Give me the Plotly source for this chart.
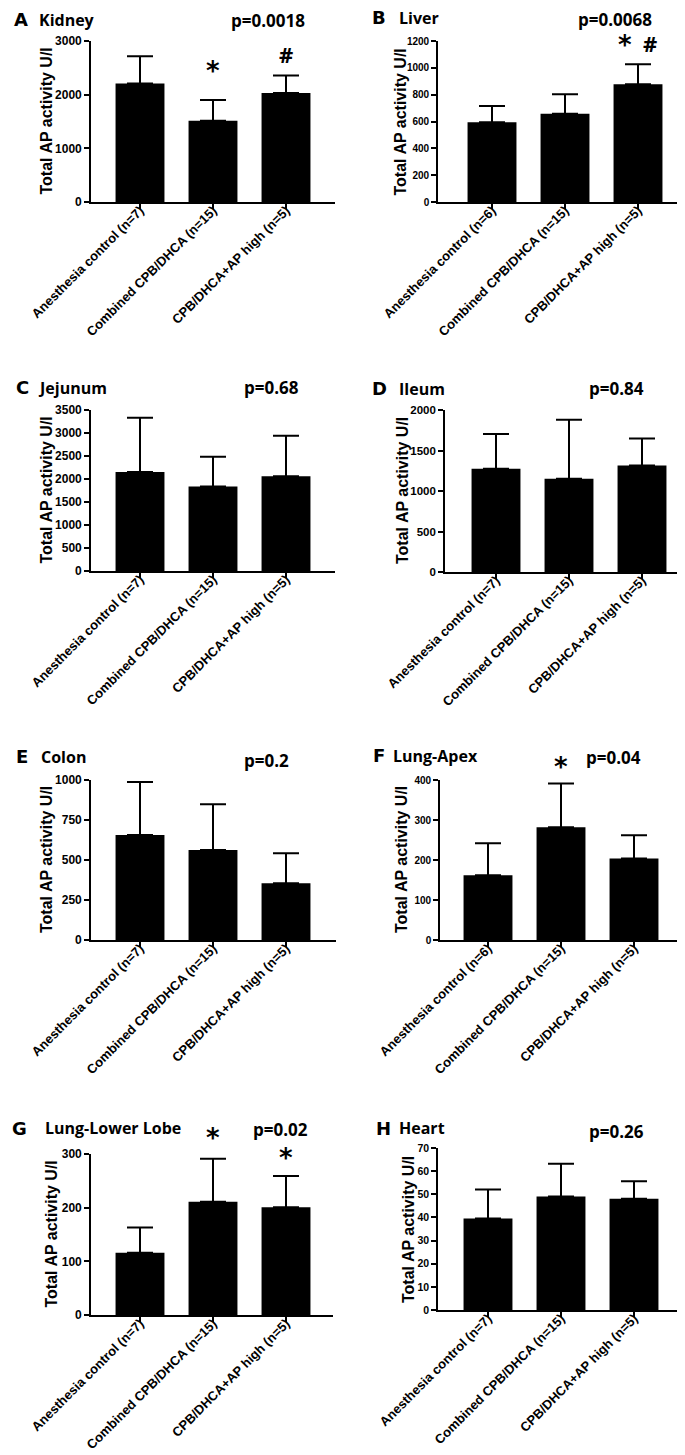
import plotly.graph_objects as go

# ---------------- data ----------------
groups_n7 = ["Anesthesia control (n=7)", "Combined CPB/DHCA (n=15)", "CPB/DHCA+AP high (n=5)"]
groups_n6 = ["Anesthesia control (n=6)", "Combined CPB/DHCA (n=15)", "CPB/DHCA+AP high (n=5)"]

panel_letters = ["A", "B", "C", "D", "E", "F", "G", "H"]
panel_names = ["Kidney", "Liver", "Jejunum", "Ileum", "Colon", "Lung-Apex", "Lung-Lower Lobe", "Heart"]
p_values = ["p=0.0018", "p=0.0068", "p=0.68", "p=0.84", "p=0.2", "p=0.04", "p=0.02", "p=0.26"]

kidney_mean = [2210, 1515, 2030]
kidney_upper = [2715, 1900, 2355]
liver_mean = [595, 658, 878]
liver_upper = [715, 803, 1027]
jejunum_mean = [2150, 1835, 2060]
jejunum_upper = [3330, 2485, 2940]
ileum_mean = [1275, 1152, 1315]
ileum_upper = [1705, 1880, 1648]
colon_mean = [656, 563, 355]
colon_upper = [988, 849, 542]
apex_mean = [162, 282, 204]
apex_upper = [242, 391, 262]
lower_mean = [116, 211, 201]
lower_upper = [163, 291, 259]
heart_mean = [39.5, 49.0, 48.1]
heart_upper = [52.1, 63.2, 55.6]

y_max = [3000, 1200, 3500, 2000, 1000, 400, 300, 70]
y_dtick = [1000, 200, 500, 500, 250, 100, 100, 10]

# significance marks: (panel index, group index, symbol)
marks = [(0, 1, "*"), (0, 2, "#"), (1, 2, "*"), (1, 2, "#"), (5, 1, "*"), (6, 1, "*"), (6, 2, "*")]

means = [kidney_mean, liver_mean, jejunum_mean, ileum_mean, colon_mean, apex_mean, lower_mean, heart_mean]
uppers = [kidney_upper, liver_upper, jejunum_upper, ileum_upper, colon_upper, apex_upper, lower_upper, heart_upper]
cats = [groups_n7, groups_n6, groups_n7, groups_n7, groups_n7, groups_n6, groups_n7, groups_n7]

# ---------------- layout geometry (pixels) ----------------
W, H = 685, 1455
# left, right, top, bottom, first tick center
geom = [
    (83, 327, 33, 194, 132),
    (430, 678, 33, 194, 484),
    (83, 327, 402, 563, 132),
    (437, 683, 402, 564, 488),
    (83, 328, 772, 932, 132),
    (432, 673, 772, 932, 480),
    (83, 325, 1146, 1307, 132),
    (430, 674, 1140, 1302, 480),
]
SP = 73.0
# title positions: letter x, name x, title y, p center x, p y
title_pos = [
    (4, 29, 12, 260, 13),
    (362, 389, 10, 607, 12),
    (6, 28, 380, 263, 380),
    (362, 389, 381, 608, 381),
    (6, 31, 749, 258, 752),
    (363, 383, 748, 605, 750),
    (2, 35, 1120, 272, 1121),
    (366, 389, 1120, 608, 1123),
]
ytitle_x = [38, 392, 38, 395, 38, 393, 43, 400]
ytick_size = [12, 10, 12, 11.5, 12, 10, 12, 10.5]
# per-mark pixel offsets (xshift, yshift)
mark_off = [(0, 13), (0, 6), (-13, 3), (12, 5), (0, 1), (0, 5), (0, 2)]

SANS = "Liberation Sans"

fig = go.Figure()
annotations = []
layout = {}

def px_x(x):
    return x / W

def px_y(y):
    return 1 - y / H

def b(t):
    return "<b>" + t + "</b>"

for i in range(8):
    left, right, top, bottom, c1 = geom[i]
    xa = "x" if i == 0 else f"x{i+1}"
    ya = "y" if i == 0 else f"y{i+1}"
    xkey = "xaxis" if i == 0 else f"xaxis{i+1}"
    ykey = "yaxis" if i == 0 else f"yaxis{i+1}"
    r0 = -(c1 - left) / SP
    r1 = 2 + (right - (c1 + 2 * SP)) / SP
    m = means[i]
    u = uppers[i]
    fig.add_trace(go.Bar(
        x=cats[i], y=m, xaxis=xa, yaxis=ya,
        marker=dict(color="black", line=dict(width=0)),
        width=0.67,
        error_y=dict(type="data", symmetric=False,
                     array=[u[k] - m[k] for k in range(3)],
                     arrayminus=[0, 0, 0],
                     color="black", thickness=2, width=13),
        showlegend=False, hoverinfo="skip",
    ))
    yt = list(range(0, y_max[i] + 1, y_dtick[i]))
    layout[xkey] = dict(
        domain=[px_x(left), px_x(right)], anchor=ya,
        type="category", range=[r0, r1],
        tickmode="array", tickvals=cats[i], ticktext=[b(c) for c in cats[i]],
        showline=True, linecolor="black", linewidth=1.6,
        ticks="outside", ticklen=5, tickwidth=1.6, tickcolor="black",
        tickangle=-45, tickfont=dict(family=SANS, size=13, color="black"),
        ticklabelstandoff=-11,
        showgrid=False, zeroline=False,
        automargin=False, fixedrange=True,
    )
    layout[ykey] = dict(
        domain=[px_y(bottom), px_y(top)], anchor=xa,
        range=[0, y_max[i]],
        tickmode="array", tickvals=yt, ticktext=[b(str(v)) for v in yt],
        showline=True, linecolor="black", linewidth=1.6,
        ticks="outside", ticklen=5, tickwidth=1.6, tickcolor="black",
        tickfont=dict(family=SANS, size=ytick_size[i], color="black"),
        showgrid=False, zeroline=False,
        automargin=False, fixedrange=True,
    )
    lx, nx, ty, pcx, py = title_pos[i]
    annotations.append(dict(
        text=b(panel_letters[i]), x=px_x(lx), y=px_y(ty), xref="paper", yref="paper",
        xanchor="left", yanchor="middle", showarrow=False,
        font=dict(family="DejaVu Sans", size=18, color="black"),
    ))
    annotations.append(dict(
        text=b(panel_names[i]), x=px_x(nx), y=px_y(ty), xref="paper", yref="paper",
        xanchor="left", yanchor="middle", showarrow=False,
        font=dict(family="Open Sans", size=16, color="black"),
    ))
    annotations.append(dict(
        text=b(p_values[i]), x=px_x(pcx), y=px_y(py), xref="paper", yref="paper",
        xanchor="center", yanchor="middle", showarrow=False, borderpad=0,
        font=dict(family="Open Sans", size=17, color="black"),
    ))
    annotations.append(dict(
        text=b("Total AP activity U/I"), x=px_x(ytitle_x[i]), y=px_y((top + bottom) / 2),
        xref="paper", yref="paper", xanchor="center", yanchor="middle",
        textangle=-90, showarrow=False,
        font=dict(family=SANS, size=16, color="black"),
    ))

for k, (pi, gi, sym) in enumerate(marks):
    xa = "x" if pi == 0 else f"x{pi+1}"
    ya = "y" if pi == 0 else f"y{pi+1}"
    if sym == "#":
        f = dict(family="Open Sans", size=22, color="black")
    else:
        f = dict(family="DejaVu Sans", size=26, color="black")
    xs, ys = mark_off[k]
    annotations.append(dict(
        text=b(sym), x=cats[pi][gi], y=uppers[pi][gi], xref=xa, yref=ya,
        xanchor="center", yanchor="bottom", xshift=xs, yshift=ys,
        showarrow=False, font=f, borderpad=0,
    ))

fig.update_layout(
    width=W, height=H,
    margin=dict(l=0, r=0, t=0, b=0, autoexpand=False),
    paper_bgcolor="white", plot_bgcolor="white",
    annotations=annotations,
)
fig.update_layout(**layout)

fig.write_html("out.html")
